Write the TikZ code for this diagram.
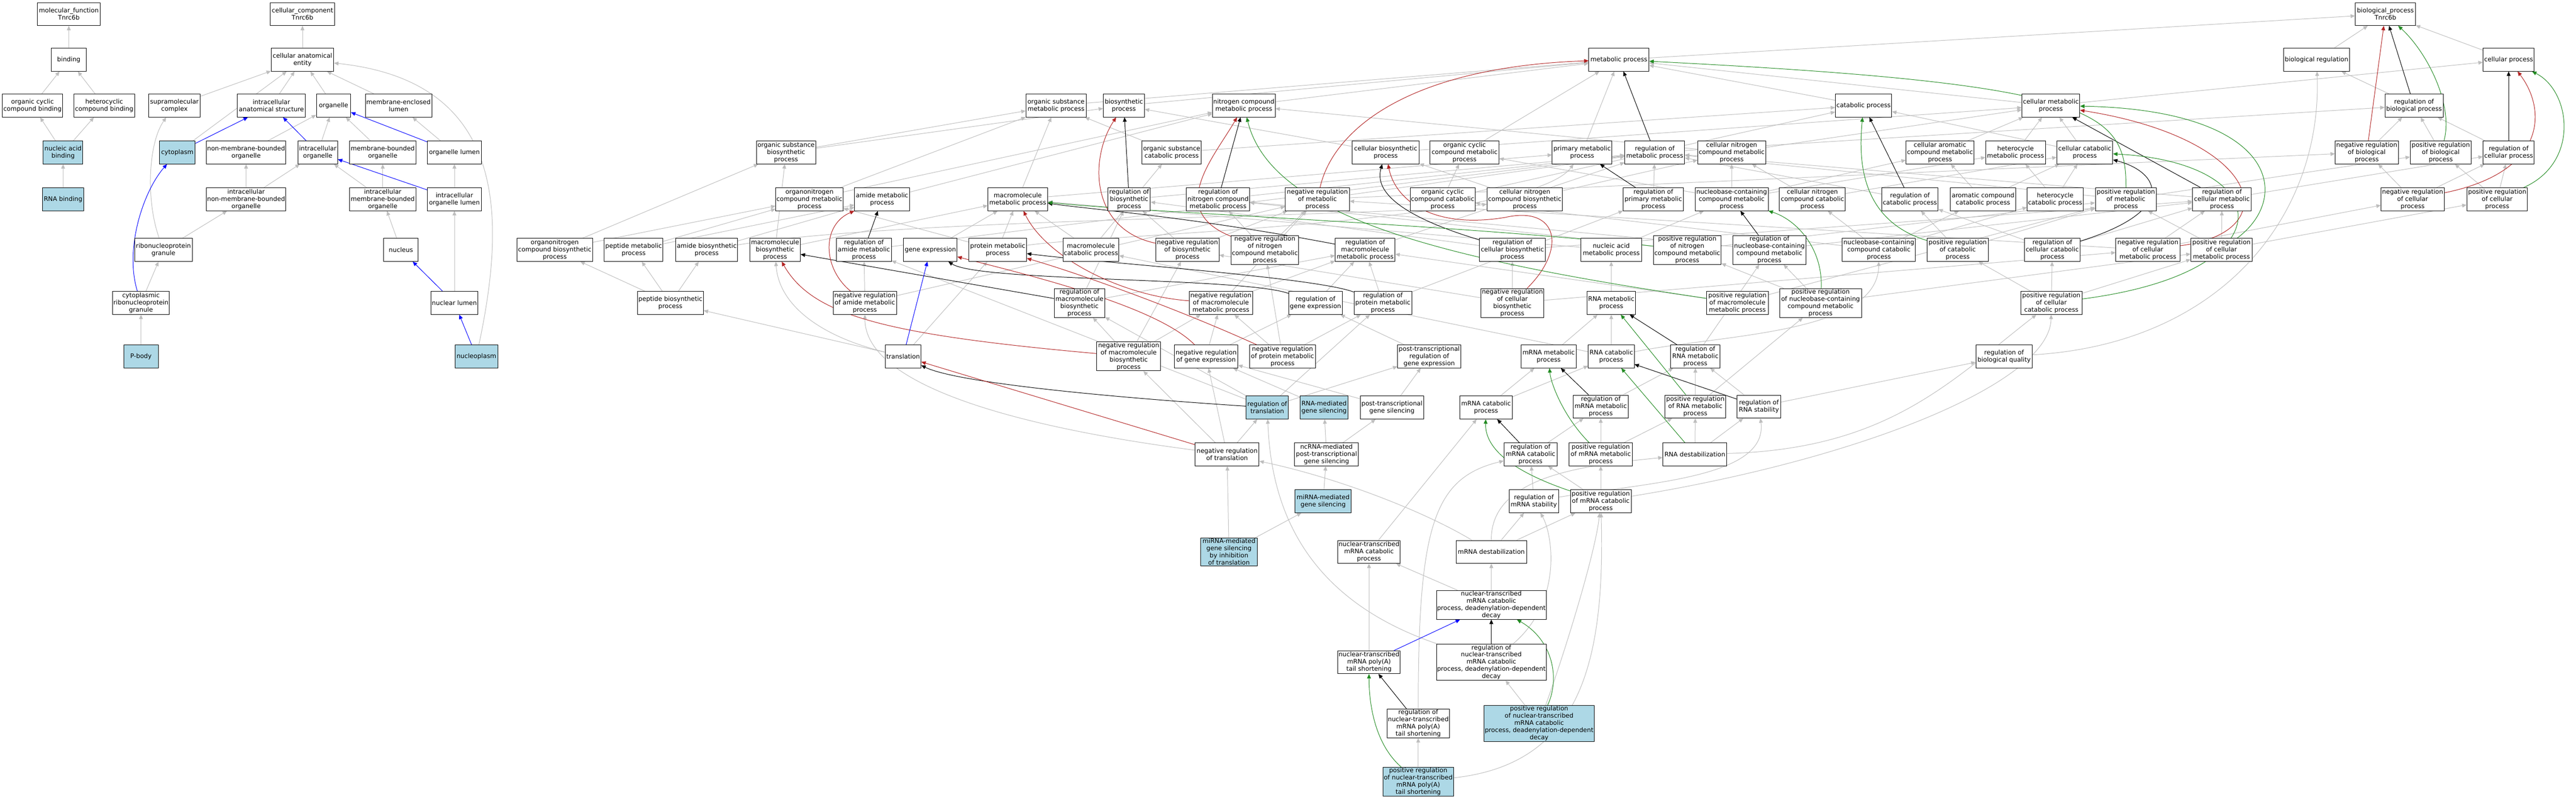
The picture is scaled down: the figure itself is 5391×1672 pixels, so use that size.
\documentclass[tikz,border=0pt]{standalone}
\usepackage{fontspec}
\setmainfont{DejaVu Sans}
\usetikzlibrary{arrows.meta}
\definecolor{gvgray}{RGB}{190,190,190}
\definecolor{gvred}{RGB}{178,34,34}
\definecolor{gvgreen}{RGB}{34,139,34}
\definecolor{gvblue}{RGB}{0,0,255}
\definecolor{gvfill}{RGB}{173,216,230}
\newcommand{\gvf}{\fontsize{9.8}{11.25}\selectfont}
\pgfdeclarelayer{paper}
\pgfdeclarelayer{bg}
\pgfsetlayers{paper,bg,main}
\tikzset{
  gobox/.style={draw=black, line width=0.75pt, rectangle, minimum height=36pt, minimum width=#1*0.75pt, inner xsep=1pt, inner ysep=1pt, align=center, font=\gvf, fill=white},
  gobl/.style={gobox=#1, fill=gvfill},
  tipx/.style={-{Triangle[length=7pt,width=6pt]}},
  isa/.style={draw=gvgray, line width=0.8pt, tipx},
  reg/.style={draw=black, line width=0.8pt, tipx},
  nreg/.style={draw=gvred, line width=0.8pt, tipx},
  preg/.style={draw=gvgreen, line width=0.8pt, tipx},
  partof/.style={draw=gvblue, line width=0.8pt, tipx}
}
\begin{document}
\begin{tikzpicture}[x=0.75pt,y=-0.75pt]
\useasboundingbox (0,0) rectangle (5391,1672);
\begin{pgfonlayer}{paper}
\fill[white] (0,0) rectangle (5391,1672);
\end{pgfonlayer}
% ---------- cellular component / molecular function ----------
\node[gobox=131] (mf) at (144,29.5) {molecular\_function\\Tnrc6b};
\node[gobox=134] (cc) at (633,29.5) {cellular\_component\\Tnrc6b};
\node[gobox=73] (bind) at (144,125) {binding};
\node[gobox=131] (cae) at (633,125) {cellular anatomical\\entity};
\node[gobox=126] (occb) at (68,221) {organic cyclic\\compound binding};
\node[gobox=127] (hcb) at (218,221) {heterocyclic\\compound binding};
\node[gobox=108] (smc) at (365,221) {supramolecular\\complex};
\node[gobox=142] (ias) at (568,221) {intracellular\\anatomical structure};
\node[gobox=72] (org) at (698,221) {organelle};
\node[gobox=139] (mel) at (834,221) {membrane-enclosed\\lumen};
\node[gobl=83] (nab) at (132,319) {nucleic acid\\binding};
\node[gobl=75] (cyto) at (371,319) {cytoplasm};
\node[gobox=165] (nmbo) at (515,319) {non-membrane-bounded\\organelle};
\node[gobox=83] (io) at (665,319) {intracellular\\organelle};
\node[gobox=139] (mbo) at (801,319) {membrane-bounded\\organelle};
\node[gobox=113] (ol) at (951,319) {organelle lumen};
\node[gobl=87] (rnab) at (132,417) {RNA binding};
\node[gobox=165] (inmbo) at (515,417) {intracellular\\non-membrane-bounded\\organelle};
\node[gobox=139] (imbo) at (801,417) {intracellular\\membrane-bounded\\organelle};
\node[gobox=113] (iol) at (951,417) {intracellular\\organelle lumen};
\node[gobox=121] (rnpg) at (342,523) {ribonucleoprotein\\granule};
\node[gobox=72] (nuc) at (839,523) {nucleus};
\node[gobox=119] (crnpg) at (295,634) {cytoplasmic\\ribonucleoprotein\\granule};
\node[gobox=99] (nl) at (951,634) {nuclear lumen};
\node[gobl=72] (pbody) at (295,746) {P-body};
\node[gobl=89] (npl) at (997,746) {nucleoplasm};
% ---------- biological process ----------
\node[gobox=126] (bp) at (4992,29.5) {biological\_process\\Tnrc6b};
\node[gobox=126] (mp) at (3388,125) {metabolic process};
\node[gobox=138] (breg) at (4848,125) {biological regulation};
\node[gobox=107] (cp) at (5250,125) {cellular process};
\node[gobox=126] (osmp) at (2210,221) {organic substance\\metabolic process};
\node[gobox=86] (bsp) at (2352,221) {biosynthetic\\process};
\node[gobox=131] (ncmp) at (2603,221) {nitrogen compound\\metabolic process};
\node[gobox=118] (catp) at (3900,221) {catabolic process};
\node[gobox=121] (cmp) at (4292,221) {cellular metabolic\\process};
\node[gobox=122] (rbp) at (5052,221) {regulation of\\biological process};
\node[gobox=124] (osbp) at (1645,319) {organic substance\\biosynthetic\\process};
\node[gobox=124] (oscp) at (2452,319) {organic substance\\catabolic process};
\node[gobox=140] (cbp) at (2900,319) {cellular biosynthetic\\process};
\node[gobox=144] (occmp) at (3065,319) {organic cyclic\\compound metabolic\\process};
\node[gobox=125] (pmp) at (3311,319) {primary metabolic\\process};
\node[gobox=125] (rmp) at (3463,319) {regulation of\\metabolic process};
\node[gobox=142] (cncmp) at (3624,319) {cellular nitrogen\\compound metabolic\\process};
\node[gobox=142] (cacmp) at (4060,319) {cellular aromatic\\compound metabolic\\process};
\node[gobox=125] (hmp) at (4218,319) {heterocycle\\metabolic process};
\node[gobox=117] (ccp) at (4363,319) {cellular catabolic\\process};
\node[gobox=132] (nrbp) at (4953,319) {negative regulation\\of biological\\process};
\node[gobox=128] (prbp) at (5108,319) {positive regulation\\of biological\\process};
\node[gobox=107] (rcp) at (5250,319) {regulation of\\cellular process};
\node[gobox=141] (oncmp) at (1694,417) {organonitrogen\\compound metabolic\\process};
\node[gobox=115] (amp) at (1846,417) {amide metabolic\\process};
\node[gobox=125] (mmp) at (2130,417) {macromolecule\\metabolic process};
\node[gobox=89] (rbsp) at (2363,417) {regulation of\\biosynthetic\\process};
\node[gobox=132] (rncmp) at (2549,417) {regulation of\\nitrogen compound\\metabolic process};
\node[gobox=134] (nrmp) at (2757,417) {negative regulation\\of metabolic\\process};
\node[gobox=136] (occcp) at (3019,417) {organic cyclic\\compound catabolic\\process};
\node[gobox=158] (cncbp) at (3191,417) {cellular nitrogen\\compound biosynthetic\\process};
\node[gobox=126] (rpmp) at (3460,417) {regulation of\\primary metabolic\\process};
\node[gobox=153] (nccmp) at (3624,417) {nucleobase-containing\\compound metabolic\\process};
\node[gobox=138] (cnccp) at (3793,417) {cellular nitrogen\\compound catabolic\\process};
\node[gobox=118] (rcatp) at (3997,417) {regulation of\\catabolic process};
\node[gobox=137] (accp) at (4150,417) {aromatic compound\\catabolic process};
\node[gobox=117] (hcp) at (4301,417) {heterocycle\\catabolic process};
\node[gobox=128] (prmp) at (4449,417) {positive regulation\\of metabolic\\process};
\node[gobox=123] (rcmp) at (4650,417) {regulation of\\cellular metabolic\\process};
\node[gobox=132] (nrcp) at (5049,417) {negative regulation\\of cellular\\process};
\node[gobox=127] (prcp) at (5226,417) {positive regulation\\of cellular\\process};
\node[gobox=158] (oncbp) at (1161,523) {organonitrogen\\compound biosynthetic\\process};
\node[gobox=123] (pepmp) at (1326,523) {peptide metabolic\\process};
\node[gobox=129] (abp) at (1479,523) {amide biosynthetic\\process};
\node[gobox=106] (mbp) at (1622,523) {macromolecule\\biosynthetic\\process};
\node[gobox=115] (ramp) at (1808,523) {regulation of\\amide metabolic\\process};
\node[gobox=112] (ge) at (1947,523) {gene expression};
\node[gobox=121] (protmp) at (2088,523) {protein metabolic\\process};
\node[gobox=117] (mcp) at (2283,523) {macromolecule\\catabolic process};
\node[gobox=132] (nrbsp) at (2485,523) {negative regulation\\of biosynthetic\\process};
\node[gobox=141] (nrncmp) at (2647,523) {negative regulation\\of nitrogen\\compound metabolic\\process};
\node[gobox=125] (rmmp) at (2857,523) {regulation of\\macromolecule\\metabolic process};
\node[gobox=138] (rcbp) at (3165,523) {regulation of\\cellular biosynthetic\\process};
\node[gobox=127] (namp) at (3372,523) {nucleic acid\\metabolic process};
\node[gobox=142] (prncmp) at (3531,523) {positive regulation\\of nitrogen\\compound metabolic\\process};
\node[gobox=153] (rnccmp) at (3703,523) {regulation of\\nucleobase-containing\\compound metabolic\\process};
\node[gobox=153] (ncccp) at (3932,523) {nucleobase-containing\\compound catabolic\\process};
\node[gobox=128] (prcatp) at (4097,523) {positive regulation\\of catabolic\\process};
\node[gobox=117] (rccp) at (4295,523) {regulation of\\cellular catabolic\\process};
\node[gobox=134] (nrcmp) at (4495,523) {negative regulation\\of cellular\\metabolic process};
\node[gobox=128] (prcmp) at (4649,523) {positive regulation\\of cellular\\metabolic process};
\node[gobox=138] (pepbp) at (1403,634) {peptide biosynthetic\\process};
\node[gobox=133] (nramp) at (1810,634) {negative regulation\\of amide metabolic\\process};
\node[gobox=106] (rmbp) at (2259,634) {regulation of\\macromolecule\\biosynthetic\\process};
\node[gobox=133] (nrmmp) at (2555,634) {negative regulation\\of macromolecule\\metabolic process};
\node[gobox=112] (rge) at (2753,634) {regulation of\\gene expression};
\node[gobox=121] (rprotmp) at (2894,634) {regulation of\\protein metabolic\\process};
\node[gobox=132] (nrcbp) at (3165,634) {negative regulation\\of cellular\\biosynthetic\\process};
\node[gobox=102] (rnamp) at (3372,634) {RNA metabolic\\process};
\node[gobox=130] (prmmp) at (3636,634) {positive regulation\\of macromolecule\\metabolic process};
\node[gobox=171] (prnccmp) at (3810,634) {positive regulation\\of nucleobase-containing\\compound metabolic\\process};
\node[gobox=128] (prccp) at (4293,634) {positive regulation\\of cellular\\catabolic process};
\node[gobox=75] (trans) at (1890,746) {translation};
\node[gobox=134] (nrmbp) at (2362,746) {negative regulation\\of macromolecule\\biosynthetic\\process};
\node[gobox=133] (nrge) at (2524,746) {negative regulation\\of gene expression};
\node[gobox=138] (nrprotmp) at (2684,746) {negative regulation\\of protein metabolic\\process};
\node[gobox=132] (ptrge) at (2991,746) {post-transcriptional\\regulation of\\gene expression};
\node[gobox=115] (mrnamp) at (3241,746) {mRNA metabolic\\process};
\node[gobox=96] (rnacp) at (3372,746) {RNA catabolic\\process};
\node[gobox=104] (rrnamp) at (3548,746) {regulation of\\RNA metabolic\\process};
\node[gobox=118] (rbq) at (4194,746) {regulation of\\biological quality};
\node[gobl=88] (rtrans) at (2652,853) {regulation of\\translation};
\node[gobl=101] (rmgs) at (2771,853) {RNA-mediated\\gene silencing};
\node[gobox=133] (ptgs) at (2913,853) {post-transcriptional\\gene silencing};
\node[gobox=109] (mrnacp) at (3110,853) {mRNA catabolic\\process};
\node[gobox=116] (rmrnamp) at (3350,851) {regulation of\\mRNA metabolic\\process};
\node[gobox=127] (prrnamp) at (3548,851) {positive regulation\\of RNA metabolic\\process};
\node[gobox=92] (rrnas) at (3681,851) {regulation of\\RNA stability};
\node[gobox=134] (nrtrans) at (2568,951) {negative regulation\\of translation};
\node[gobox=134] (ncrna) at (2776,951) {ncRNA-mediated\\post-transcriptional\\gene silencing};
\node[gobox=111] (rmrnacp) at (3203,951) {regulation of\\mRNA catabolic\\process};
\node[gobox=133] (prmrnamp) at (3350,951) {positive regulation\\of mRNA metabolic\\process};
\node[gobox=134] (rnad) at (3547,951) {RNA destabilization};
\node[gobl=118] (mirna) at (2769,1049) {miRNA-mediated\\gene silencing};
\node[gobox=104] (rmrnas) at (3210,1049) {regulation of\\mRNA stability};
\node[gobox=127] (prmrnacp) at (3350,1049) {positive regulation\\of mRNA catabolic\\process};
\node[gobl=118] (mirnait) at (2572,1155) {miRNA-mediated\\gene silencing\\by inhibition\\of translation};
\node[gobox=130] (ntmcp) at (2865,1155) {nuclear-transcribed\\mRNA catabolic\\process};
\node[gobox=148] (mrnad) at (3121,1155) {mRNA destabilization};
\node[gobox=230] (ddd) at (3121,1266) {nuclear-transcribed\\mRNA catabolic\\process, deadenylation-dependent\\decay};
\node[gobox=130] (pats) at (2865,1386) {nuclear-transcribed\\mRNA poly(A)\\tail shortening};
\node[gobox=230] (rddd) at (3121,1386) {regulation of\\nuclear-transcribed\\mRNA catabolic\\process, deadenylation-dependent\\decay};
\node[gobox=130] (rpats) at (2968,1514) {regulation of\\nuclear-transcribed\\mRNA poly(A)\\tail shortening};
\node[gobl=226] (prddd) at (3221,1514) {positive regulation\\of nuclear-transcribed\\mRNA catabolic\\process, deadenylation-dependent\\decay};
\node[gobl=148] (ppats) at (2968,1636) {positive regulation\\of nuclear-transcribed\\mRNA poly(A)\\tail shortening};
% ---------- edges ----------
\begin{pgfonlayer}{bg}
\foreach \a/\b in {cae/cc, bind/mf, occb/bind, hcb/bind, nab/occb, nab/hcb, rnab/nab, smc/cae, cyto/cae, ias/cae, org/cae, mel/cae, nmbo/org, io/org, mbo/org, ol/mel, inmbo/nmbo, inmbo/io, imbo/io, imbo/mbo, iol/ol, rnpg/inmbo, crnpg/rnpg, nuc/imbo, nl/iol, pbody/crnpg}
  \draw[isa] (\a) -- (\b);
\draw[isa] (rnpg) .. controls (305,420) and (310,300) .. (smc);
\draw[isa] (npl) .. controls (1060,450) and (1060,170) .. (cae);
\foreach \a/\b in {cyto/ias, io/ias, ol/org, iol/io, nl/nuc, npl/nl}
  \draw[partof] (\a) -- (\b);
\draw[partof] (crnpg) .. controls (260,520) and (300,400) .. (cyto);
% BP is_a
\foreach \a/\b in {mp/bp, breg/bp, cp/bp, rbp/breg, cmp/cp, nrbp/rbp, prbp/rbp, rcp/rbp, rmp/rbp, nrcp/rcp, prcp/rcp, nrcp/nrbp, prcp/prbp, rcmp/rcp, nrmp/nrbp, prmp/prbp,
  osmp/mp, bsp/mp, ncmp/mp, catp/mp, cmp/mp, pmp/mp, occmp/mp,
  osbp/osmp, osbp/bsp, oscp/osmp, oscp/catp, cbp/bsp, cbp/cmp, cncmp/ncmp, cncmp/cmp, cacmp/cmp, hmp/cmp, ccp/cmp, ccp/catp,
  oncmp/osmp, oncmp/ncmp, amp/ncmp, mmp/osmp, mmp/pmp, rbsp/rmp, rncmp/rmp, nrmp/rmp, occcp/occmp, occcp/catp, cncbp/cncmp, cncbp/cbp, rpmp/rmp, nccmp/cncmp, nccmp/cacmp, nccmp/hmp, nccmp/occmp, cnccp/cncmp, cnccp/ccp, rcatp/rmp, accp/cacmp, accp/ccp, hcp/hmp, hcp/ccp, prmp/rmp, rcmp/rmp,
  oncbp/oncmp, oncbp/osbp, pepmp/oncmp, pepmp/amp, abp/amp, mbp/osbp, mbp/mmp, ramp/rmp, ge/mmp, protmp/mmp, protmp/oncmp, mcp/mmp, mcp/oscp, nrbsp/rbsp, nrbsp/nrmp, nrncmp/rncmp, nrncmp/nrmp, rmmp/rmp, rcbp/rbsp, rcbp/rcmp, namp/nccmp, namp/mmp, prncmp/rncmp, prncmp/prmp, rnccmp/rcmp, rnccmp/rncmp, ncccp/cnccp, ncccp/accp, ncccp/hcp, ncccp/occcp, prcatp/rcatp, prcatp/prmp, rccp/rcatp, rccp/rcmp, nrcmp/rcmp, nrcmp/nrmp, nrcmp/nrcp, prcmp/rcmp, prcmp/prmp, prcmp/prcp,
  pepbp/pepmp, pepbp/abp, pepbp/oncbp, nramp/ramp, nramp/nrmp, rmbp/rbsp, rmbp/rmmp, nrmmp/rmmp, nrmmp/nrmp, rge/rmmp, rprotmp/rmmp, rprotmp/rpmp, nrcbp/rcbp, nrcbp/nrbsp, nrcbp/nrcmp, rnamp/namp, prmmp/rmmp, prmmp/prmp, prnccmp/rnccmp, prnccmp/prcmp, prnccmp/prncmp, prccp/rccp, prccp/prcatp, prccp/prcmp,
  trans/pepbp, trans/protmp, nrmbp/rmbp, nrmbp/nrbsp, nrmbp/nrmmp, nrge/rge, nrge/nrmmp, nrprotmp/rprotmp, nrprotmp/nrmmp, nrprotmp/nrncmp, ptrge/rge, mrnamp/rnamp, rnacp/rnamp, rnacp/mcp, rrnamp/rnccmp, rrnas/rbq,
  rtrans/rprotmp, rtrans/ramp, rtrans/ptrge, rtrans/rmbp, rmgs/nrge, ptgs/ptrge, ptgs/nrge, mrnacp/mrnamp, mrnacp/rnacp, rmrnamp/rrnamp, prrnamp/rrnamp, prrnamp/prnccmp, rrnas/rrnamp,
  nrtrans/rtrans, nrtrans/nrmbp, nrtrans/nrge, ncrna/rmgs, ncrna/ptgs, rmrnacp/rmrnamp, prmrnamp/rmrnamp, prmrnamp/prrnamp, rnad/rrnas, rnad/prrnamp,
  mirna/ncrna, rmrnas/rmrnacp, prmrnacp/rmrnacp, prmrnacp/prmrnamp,
  mirnait/nrtrans, mirnait/mirna, ntmcp/mrnacp, mrnad/rmrnas, mrnad/prmrnacp,
  ddd/ntmcp, ddd/mrnad, pats/ntmcp, prddd/rddd, ppats/rpats}
  \draw[isa] (\a) -- (\b);
\draw[isa] (abp) .. controls (1900,455) and (2900,455) .. (cncbp);
\draw[isa] (protmp) .. controls (2300,490) and (3200,470) .. (pmp);
\draw[isa] (trans) .. controls (1720,705) and (1630,640) .. (mbp);
\draw[isa] (nrtrans) .. controls (2100,890) and (1810,800) .. (nramp);
\draw[isa] (rddd) .. controls (2720,1250) and (2660,1050) .. (rtrans);
\draw[isa] (rpats) .. controls (2968,1100) and (3000,1000) .. (rmrnacp);
\draw[isa] (rddd) .. controls (3270,1260) and (3250,1120) .. (rmrnas);
\draw[isa] (rbq) .. controls (4650,720) and (4860,450) .. (breg);
\draw[isa] (mrnad) .. controls (3120,1000) and (3300,975) .. (rnad);
\draw[isa] (rmrnas) .. controls (3450,1010) and (3700,1000) .. (rrnas);
\draw[isa] (rnad) .. controls (3950,940) and (4080,800) .. (prccp);
\draw[isa] (prmrnacp) .. controls (3900,960) and (4290,800) .. (prccp);
\draw[isa] (ppats) .. controls (3300,1600) and (3360,1400) .. (prmrnacp);
\draw[isa] (prddd) .. controls (3280,1350) and (3340,1150) .. (prmrnacp);
\draw[isa] (mrnad) .. controls (2980,1070) and (2800,1000) .. (nrtrans);
\draw[isa] (rnacp) .. controls (3600,700) and (3930,700) .. (ncccp);
% regulates (black)
\foreach \a/\b in {rbp/bp, rcp/cp, rmp/mp, rcatp/catp, rcmp/cmp, rbsp/bsp, rncmp/ncmp, rpmp/pmp, rnccmp/nccmp, ramp/amp, rmbp/mbp, rmrnamp/mrnamp, rrnas/rnacp, rrnamp/rnamp, rmrnacp/mrnacp, rddd/ddd, rpats/pats}
  \draw[reg] (\a) -- (\b);
\draw[reg] (rccp) .. controls (4560,440) and (4520,360) .. (ccp);
\draw[reg] (rmmp) .. controls (2500,455) and (2300,440) .. (mmp);
\draw[reg] (rcbp) .. controls (2990,470) and (2870,420) .. (cbp);
\draw[reg] (rge) .. controls (2600,580) and (2050,590) .. (ge);
\draw[reg] (rprotmp) .. controls (2750,580) and (2300,550) .. (protmp);
\draw[reg] (rtrans) .. controls (2300,830) and (2000,800) .. (trans);
% negatively regulates (red)
\draw[nreg] (nrbp) -- (bp);
\draw[nreg] (nrtrans) -- (trans);
\draw[nreg] (nrcp) .. controls (5330,360) and (5330,230) .. (cp);
\draw[nreg] (nrmp) .. controls (2790,270) and (2950,140) .. (mp);
\draw[nreg] (nrcmp) .. controls (4790,485) and (4730,290) .. (cmp);
\draw[nreg] (nrbsp) .. controls (2280,480) and (2280,330) .. (bsp);
\draw[nreg] (nrncmp) .. controls (2440,440) and (2540,330) .. (ncmp);
\draw[nreg] (nrcbp) .. controls (3280,520) and (3260,430) .. (3150,455) .. controls (3000,480) and (2920,420) .. (cbp);
\draw[nreg] (nramp) .. controls (1720,560) and (1720,470) .. (amp);
\draw[nreg] (nrmbp) .. controls (1850,700) and (1700,660) .. (mbp);
\draw[nreg] (nrge) .. controls (2420,640) and (2150,575) .. (ge);
\draw[nreg] (nrmmp) .. controls (2350,620) and (2190,540) .. (mmp);
\draw[nreg] (nrprotmp) .. controls (2450,640) and (2250,570) .. (protmp);
% positively regulates (green)
\draw[preg] (rnad) -- (rnacp);
\draw[preg] (prrnamp) -- (rnamp);
\draw[preg] (prbp) .. controls (5135,220) and (5080,110) .. (bp);
\draw[preg] (prcp) .. controls (5400,340) and (5380,190) .. (cp);
\draw[preg] (prmp) .. controls (4450,230) and (4380,175) .. (mp);
\draw[preg] (prcatp) .. controls (3890,460) and (3890,330) .. (catp);
\draw[preg] (prcmp) .. controls (4800,410) and (4760,230) .. (cmp);
\draw[preg] (prccp) .. controls (4790,570) and (4770,340) .. (ccp);
\draw[preg] (prncmp) .. controls (3050,470) and (2400,445) .. (mmp);
\draw[preg] (prmmp) .. controls (3000,540) and (2660,450) .. (ncmp);
\draw[preg] (prnccmp) .. controls (3815,520) and (3760,460) .. (nccmp);
\draw[preg] (prmrnamp) .. controls (3270,870) and (3245,800) .. (mrnamp);
\draw[preg] (prmrnacp) .. controls (3130,975) and (3108,920) .. (mrnacp);
\draw[preg] (prddd) .. controls (3265,1420) and (3250,1340) .. (ddd);
\draw[preg] (ppats) .. controls (2880,1560) and (2865,1480) .. (pats);
% part of (blue)
\draw[partof] (trans) -- (ge);
\draw[partof] (pats) -- (ddd);
\end{pgfonlayer}
\end{tikzpicture}
\end{document}
